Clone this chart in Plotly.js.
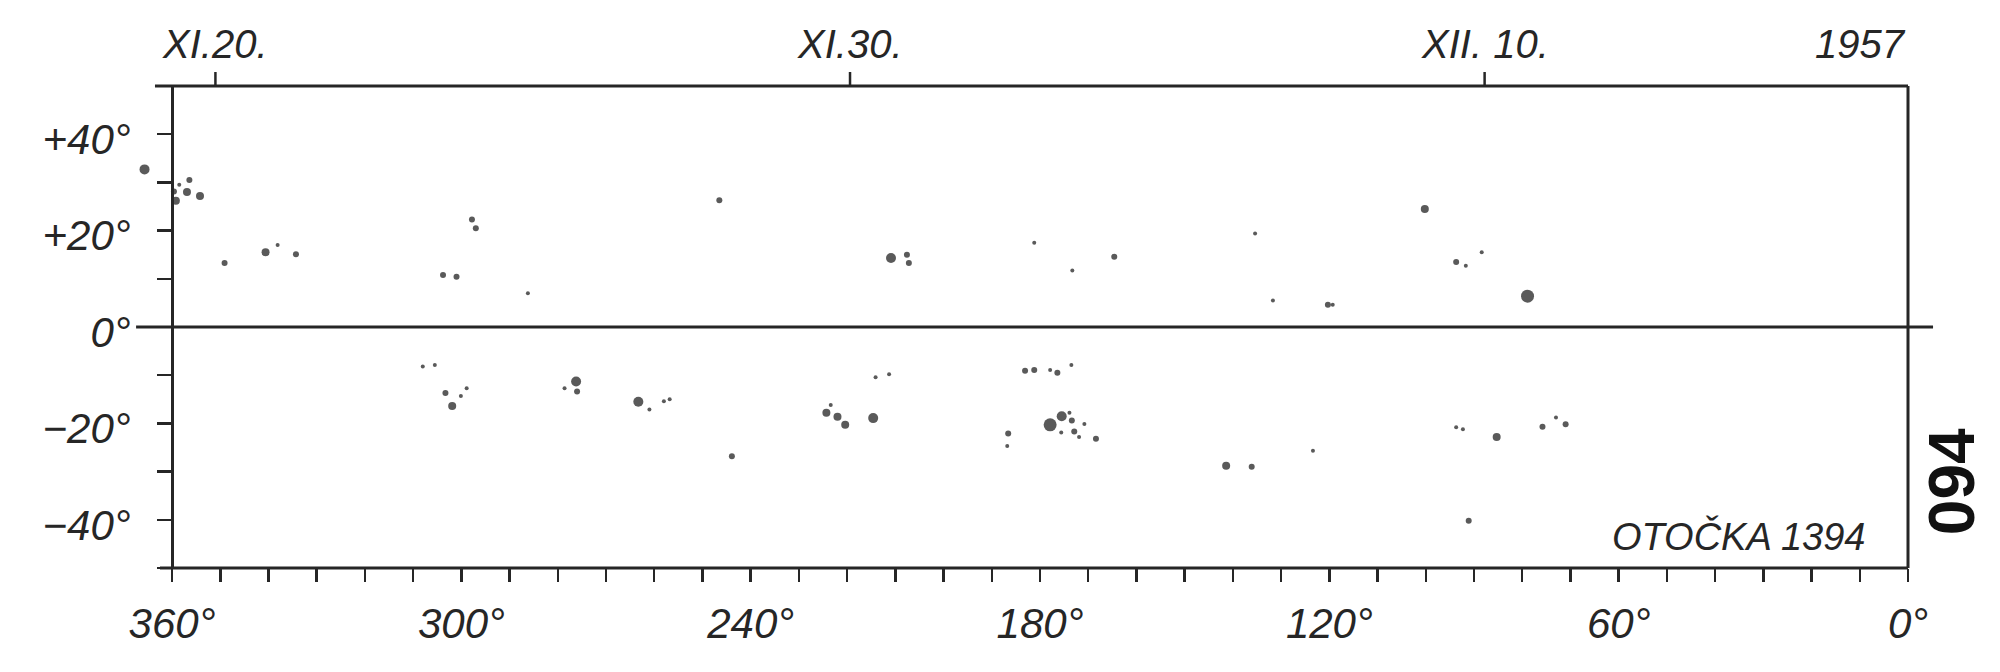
<!DOCTYPE html>
<html>
<head>
<meta charset="utf-8">
<script src="https://cdn.plot.ly/plotly-3.0.1.min.js"></script>
<style>html,body{margin:0;padding:0;background:#fff;}#chart{width:2000px;height:672px;}</style>
</head>
<body>
<div id="chart"></div>
<script>
// Carrington rotation 1394 (1957) sunspot synoptic chart
// Heliographic longitude (deg) of each spot
const spotLon = [365.7, 356.4, 358.5, 356.9, 359.6, 359.2, 354.2, 349.1, 340.6, 338.1, 334.3,
  297.8, 297.0, 303.8, 301.0, 286.2, 246.5, 210.9, 207.6, 207.2, 181.2, 173.3, 164.6, 135.4,
  131.7, 120.3, 119.3, 100.2, 93.7, 91.7, 88.4, 78.9,
  308.0, 305.5, 303.3, 298.9, 300.1, 301.9, 276.2, 278.6, 276.0, 263.3, 261.0, 258.0, 256.8,
  214.1, 211.3, 224.3, 223.4, 222.0, 220.4, 214.6, 243.9, 183.1, 181.2, 177.9, 176.4, 173.5,
  186.6, 186.8, 177.9, 175.5, 173.9, 173.4, 170.8, 175.6, 172.9, 171.9, 168.4, 141.4, 136.1,
  123.4, 93.7, 92.3, 85.3, 75.8, 73.0, 71.0, 91.1];
// Heliographic latitude (deg) of each spot
const spotLat = [32.7, 30.5, 29.5, 28.0, 28.1, 26.2, 27.2, 13.3, 15.5, 17.0, 15.1,
  22.3, 20.5, 10.8, 10.4, 7.0, 26.3, 14.3, 15.0, 13.3, 17.5, 11.7, 14.6, 19.4,
  5.5, 4.6, 4.6, 24.5, 13.5, 12.7, 15.5, 6.4,
  -8.2, -7.9, -13.7, -12.7, -14.3, -16.4, -11.3, -12.7, -13.4, -15.5, -17.1, -15.4, -15.0,
  -10.4, -9.8, -17.8, -16.2, -18.6, -20.3, -18.9, -26.8, -9.1, -8.9, -8.9, -9.5, -7.9,
  -22.1, -24.7, -20.3, -18.5, -17.8, -19.4, -20.1, -21.9, -21.7, -22.8, -23.2, -28.8, -29.0,
  -25.7, -20.8, -21.2, -22.8, -20.7, -18.8, -20.2, -40.2];
// Spot size class (1 = smallest dot ... 5 = largest spot)
const spotClass = [4, 2, 1, 3, 2, 3, 3, 2, 3, 1, 2,
  2, 2, 2, 2, 1, 2, 4, 2, 2, 1, 1, 2, 1,
  1, 2, 1, 3, 2, 1, 1, 5,
  1, 1, 2, 1, 1, 3, 4, 1, 2, 4, 1, 1, 1,
  1, 1, 3, 1, 3, 3, 4, 2, 2, 2, 1, 2, 1,
  2, 1, 5, 4, 1, 2, 1, 1, 2, 1, 2, 3, 2,
  1, 1, 1, 3, 2, 1, 2, 2];

// Axis ticks and labels
const lonTicks = [360, 300, 240, 180, 120, 60, 0];
const lonLabels = ['360°', '300°', '240°', '180°', '120°', '60°', '0°'];
const latTicks = [40, 20, 0, -20, -40];
const latLabels = ['+40°', '+20°', '0°', '\u221220°', '\u221240°'];
// Dates marked on the top edge (longitude of central meridian at that date)
const dateLon = [351.0, 219.4, 87.8];
const dateLabels = ['XI.20.', 'XI.30.', 'XII. 10.'];
const yearLabel = '1957';
const rotationLabel = 'OTOČKA 1394';
const pageLabel = '094';

const INK = '#141414';
const LINE = '#262626';
const classPx = {1: 4, 2: 6, 3: 8, 4: 10, 5: 13};
const FONT = 'Liberation Sans, Arial, sans-serif';
const labelFont = {family: FONT, size: 40, color: LINE, style: 'italic'};

// the chart's longitude scale starts a little beyond 360° so that a spot drawn
// just outside the left edge of the frame is shown, as in the original
const X_MAX = 368.3;
const frameLeft = (X_MAX - 360) / X_MAX;

const trace = {
  type: 'scatter', mode: 'markers',
  x: spotLon, y: spotLat,
  marker: {color: INK, size: spotClass.map(c => classPx[c]), line: {width: 0}},
  cliponaxis: false, hoverinfo: 'skip', showlegend: false
};

const shapes = [
  // equator, running past both edges of the frame
  {type: 'line', xref: 'paper', yref: 'y', x0: 0.0023, x1: 1.0141, y0: 0, y1: 0,
   line: {color: LINE, width: 3}},
  // top and bottom edges of the frame
  {type: 'line', xref: 'paper', yref: 'paper', x0: frameLeft - 0.0096, x1: 1, y0: 1, y1: 1,
   line: {color: LINE, width: 3}},
  {type: 'line', xref: 'paper', yref: 'paper', x0: frameLeft - 0.0068, x1: 1, y0: 0, y1: 0,
   line: {color: LINE, width: 3}},
  // right edge
  {type: 'line', xref: 'paper', yref: 'paper', x0: 1, x1: 1, y0: 0, y1: 1,
   line: {color: LINE, width: 3}}
].concat(dateLon.map(v => ({
  type: 'line', xref: 'x', yref: 'paper', x0: v, x1: v, y0: 1, y1: 1.029,
  line: {color: LINE, width: 2.5}
})));

const annotations = dateLabels.map((t, i) => ({
  text: t, xref: 'x', yref: 'paper', x: dateLon[i], y: 1, yshift: 42,
  xanchor: 'center', yanchor: 'middle', showarrow: false, font: labelFont
})).concat([
  {text: yearLabel, xref: 'paper', yref: 'paper', x: 1, y: 1, yshift: 42,
   xanchor: 'right', yanchor: 'middle', showarrow: false, font: labelFont},
  {text: rotationLabel, xref: 'paper', yref: 'paper', x: 0.9769, y: 0.066,
   xanchor: 'right', yanchor: 'middle', showarrow: false,
   font: {family: FONT, size: 38, color: LINE, style: 'italic'}},
  {text: '<b>' + pageLabel + '</b>', xref: 'paper', yref: 'paper', x: 1, xshift: 44, y: 0.178,
   xanchor: 'center', yanchor: 'middle', textangle: -90, showarrow: false,
   font: {family: FONT, size: 64, color: '#111'}}
]);

const layout = {
  width: 2000, height: 672,
  margin: {l: 132, r: 92, t: 86, b: 104, pad: 0},
  paper_bgcolor: '#ffffff', plot_bgcolor: '#ffffff',
  showlegend: false,
  xaxis: {
    range: [X_MAX, 0], showgrid: false, zeroline: false, showline: false,
    tickmode: 'array', tickvals: lonTicks, ticktext: lonLabels,
    ticks: 'outside', ticklen: 13, tickwidth: 2.5, tickcolor: LINE,
    minor: {ticks: 'outside', tick0: 0, dtick: 10, ticklen: 13, tickwidth: 2.5, tickcolor: LINE, showgrid: false},
    tickfont: {family: FONT, size: 42, color: LINE, style: 'italic'},
    ticklabelstandoff: 6
  },
  yaxis: {
    range: [-50, 50], showgrid: false, zeroline: false,
    anchor: 'free', position: frameLeft,
    showline: true, linecolor: LINE, linewidth: 3,
    tickmode: 'array', tickvals: latTicks, ticktext: latLabels,
    ticks: 'outside', ticklen: 14, tickwidth: 2.5, tickcolor: LINE,
    minor: {ticks: 'outside', tick0: 0, dtick: 10, ticklen: 14, tickwidth: 2.5, tickcolor: LINE, showgrid: false},
    tickfont: {family: FONT, size: 42, color: LINE, style: 'italic'},
    ticklabelstandoff: 18, ticklabelshift: 5
  },
  shapes: shapes,
  annotations: annotations
};

Plotly.newPlot('chart', [trace], layout, {staticPlot: true, displayModeBar: false});
</script>
</body>
</html>
